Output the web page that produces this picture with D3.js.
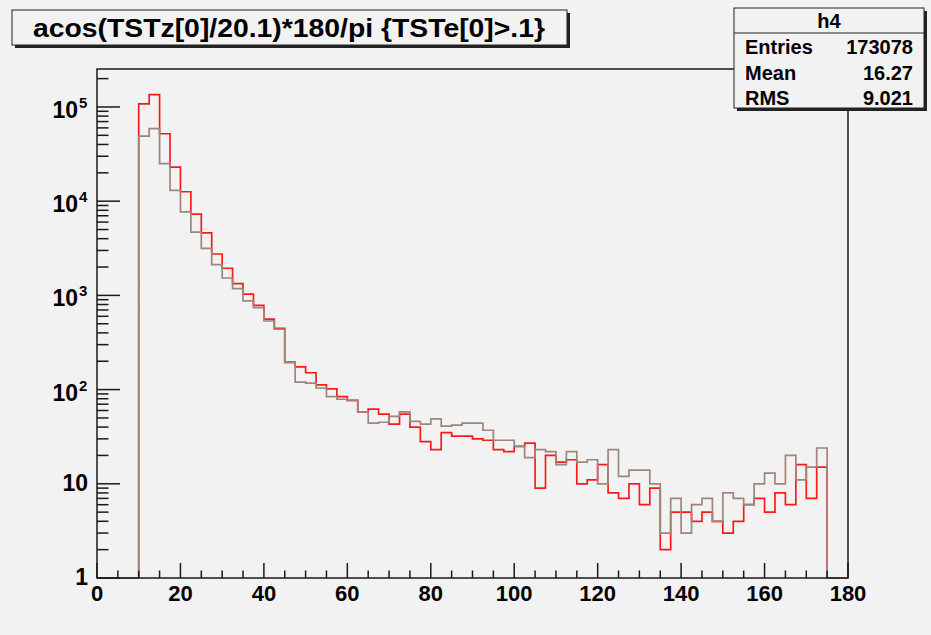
<!DOCTYPE html>
<html><head><meta charset="utf-8">
<script src="https://cdn.jsdelivr.net/npm/d3@7"></script>
<style>
html,body{margin:0;padding:0;background:#f2f2f2;}
svg{display:block;}
text{font-family:"Liberation Sans",Arial,Helvetica,sans-serif;font-weight:bold;fill:#000;}
</style></head>
<body><svg id="c" width="931" height="635"></svg>
<script>
// ---- data ----
const binWidth = 2.5;
const xMin = 0, xMax = 180;
const firstFilledBin = 10; // lower edge of first filled bin
const redCounts = [108000,135000,52000,23000,12600,7300,4600,2750,1940,1330,
  1030,785,561,448,196,174,151,112,102,84,
  77,58,62,55,43,55,40,28,23,35,
  32,32,30,29,23,22,25,27,9,20,
  17,18,10,11,16,8,7,10,6,9,
  2,5,5,4,5,4,3,4,6,7,
  5,8,6,16,7,15];
const brownCounts = [49000,59000,25000,13000,7700,4700,3160,2120,1530,1180,
  873,741,535,437,193,120,117,104,84,79,
  77,58,44,45,52,58,46,43,49,41,
  42,44,44,37,29,29,25,19,23,22,
  16,22,17,18,10,23,12,14,14,10,
  3,7,3,6,7,4,8,7,6,10,
  13,10,20,11,15,24];
const xTickLabels = ["0","20","40","60","80","100","120","140","160","180"];
const yDecades = [0,1,2,3,4,5];
const titleText = "acos(TSTz[0]/20.1)*180/pi {TSTe[0]>.1}";
const statsName = "h4";
const statsLabels = ["Entries","Mean","RMS"];
const statsValues = ["173078","16.27","9.021"];

// ---- layout ----
const svg = d3.select("#c");
const W = 931, H = 635;
const fr = {l:97, r:848, t:69, b:578};
const x = d3.scaleLinear().domain([xMin,xMax]).range([fr.l,fr.r]);
const y = d3.scaleLog().domain([1, 2.53e5]).range([fr.b,fr.t]);

svg.append("rect").attr("width",W).attr("height",H).attr("fill","#f2f2f2");

function fullBins(counts){
  const nb = Math.round((xMax-xMin)/binWidth);
  const start = Math.round((firstFilledBin-xMin)/binWidth);
  const out = [];
  for(let i=0;i<nb;i++){
    const j=i-start;
    out.push({x0:xMin+i*binWidth, x1:xMin+(i+1)*binWidth, v:(j>=0&&j<counts.length)?counts[j]:0});
  }
  return out;
}
function histPath(counts){
  const bins = fullBins(counts);
  const pts = [];
  bins.forEach(b=>{
    const v = Math.max(b.v,1);
    pts.push([x(b.x0), y(v)]);
    pts.push([x(b.x1), y(v)]);
  });
  return d3.line()(pts);
}

const plot = svg.append("g");
plot.append("path").attr("d",histPath(redCounts)).attr("fill","none")
  .attr("stroke","#ff1a1a").attr("stroke-width",1.7);
plot.append("path").attr("d",histPath(brownCounts)).attr("fill","none")
  .attr("stroke","#a0857a").attr("stroke-width",1.7);

// frame
svg.append("rect").attr("x",fr.l).attr("y",fr.t).attr("width",fr.r-fr.l).attr("height",fr.b-fr.t)
  .attr("fill","none").attr("stroke","#1a1a1a").attr("stroke-width",1.5);

// x axis ticks
const xt = svg.append("g").attr("stroke","#1a1a1a").attr("stroke-width",1.5);
for(let v=xMin; v<=xMax; v+=5){
  const major = v%20===0;
  xt.append("line").attr("x1",x(v)).attr("x2",x(v)).attr("y1",fr.b).attr("y2",fr.b-(major?15:7.5));
}
svg.append("g").selectAll("text").data(xTickLabels).join("text")
  .attr("x",d=>x(+d)).attr("y",fr.b+23).attr("text-anchor","middle")
  .style("font-size","22px").text(d=>d);

// y axis ticks
const yt = svg.append("g").attr("stroke","#1a1a1a").attr("stroke-width",1.5);
const yMaxV = y.domain()[1];
for(let d=0; d<=5; d++){
  for(let m=1;m<=9;m++){
    const v = m*Math.pow(10,d);
    if(v>yMaxV) continue;
    yt.append("line").attr("x1",fr.l).attr("x2",fr.l+(m===1?23:11.5)).attr("y1",y(v)).attr("y2",y(v));
  }
}
const yl = svg.append("g");
yDecades.forEach(d=>{
  const py = y(Math.pow(10,d));
  if(d===0){
    yl.append("text").attr("x",88).attr("y",py+7).attr("text-anchor","end").style("font-size","23px").text("1");
  } else if(d===1){
    yl.append("text").attr("x",88).attr("y",py+7.5).attr("text-anchor","end").style("font-size","23px").text("10");
  } else {
    yl.append("text").attr("x",78).attr("y",py+11).attr("text-anchor","end").style("font-size","23px").text("10");
    yl.append("text").attr("x",79).attr("y",py+1).attr("text-anchor","start").style("font-size","15px").text(String(d));
  }
});

// title box
const tb = {x:12,y:10,w:555,h:35};
svg.append("rect").attr("x",tb.x+3).attr("y",tb.y+3).attr("width",tb.w).attr("height",tb.h).attr("fill","#222");
svg.append("rect").attr("x",tb.x).attr("y",tb.y).attr("width",tb.w).attr("height",tb.h)
  .attr("fill","#f2f2f2").attr("stroke","#222").attr("stroke-width",1);
svg.append("text").attr("x",33).attr("y",37).style("font-size","26px").style("font-weight","bold")
  .attr("textLength",512).attr("lengthAdjust","spacingAndGlyphs").text(titleText);

// stats box
const sb = {x:734,y:8,w:190,h:100};
svg.append("rect").attr("x",sb.x+3).attr("y",sb.y+3).attr("width",sb.w).attr("height",sb.h).attr("fill","#222");
svg.append("rect").attr("x",sb.x).attr("y",sb.y).attr("width",sb.w).attr("height",sb.h)
  .attr("fill","#f2f2f2").attr("stroke","#222").attr("stroke-width",1);
svg.append("line").attr("x1",sb.x).attr("x2",sb.x+sb.w).attr("y1",33).attr("y2",33).attr("stroke","#222").attr("stroke-width",1);
svg.append("text").attr("x",sb.x+sb.w/2).attr("y",28).attr("text-anchor","middle").style("font-size","20px").text(statsName);
statsLabels.forEach((l,i)=>{
  const by = 54 + i*25.5;
  svg.append("text").attr("x",745).attr("y",by).style("font-size","20px").text(l);
  svg.append("text").attr("x",913).attr("y",by).attr("text-anchor","end").style("font-size","20px").text(statsValues[i]);
});
</script></body></html>
